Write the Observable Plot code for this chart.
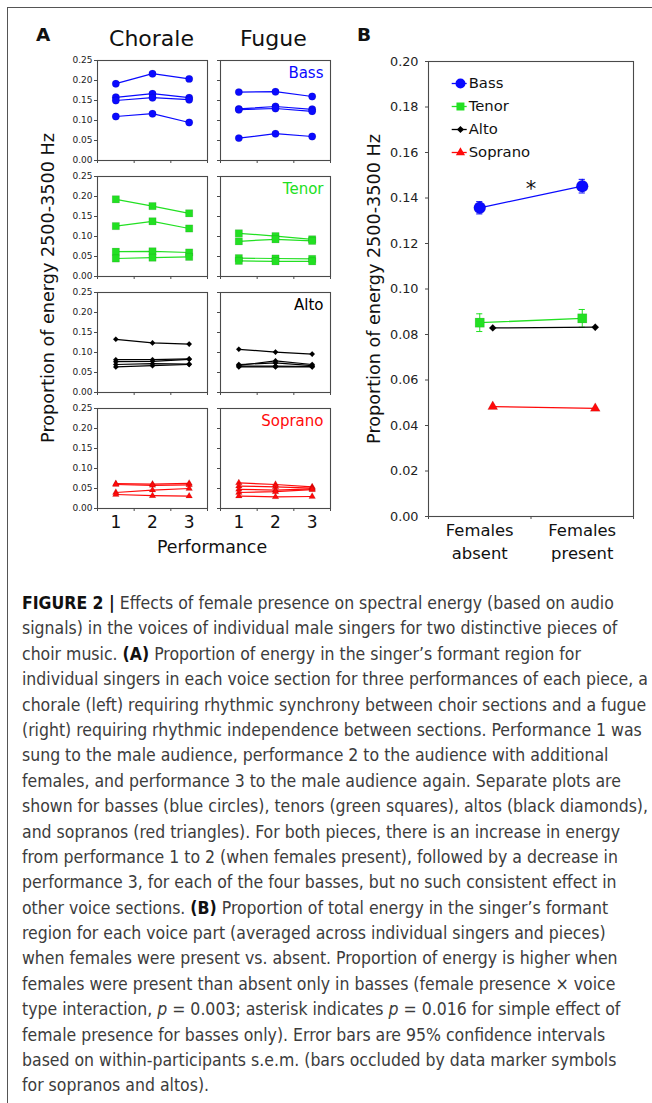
<!DOCTYPE html>
<html><head><meta charset="utf-8">
<script src="https://cdn.jsdelivr.net/npm/d3@7"></script>
<script src="https://cdn.jsdelivr.net/npm/@observablehq/plot@0.6"></script>
<style>
body{margin:0;background:#fff;}
#root{position:relative;width:652px;height:1103px;overflow:hidden;font-family:"DejaVu Sans",sans-serif;color:#111;}
.abs{position:absolute;white-space:nowrap;}
#border{position:absolute;left:7px;top:7px;width:700px;height:1200px;border-left:1.5px solid #555;border-top:1.5px solid #555;}
.ylab{position:absolute;font-size:17.6px;transform:translate(-50%,-50%) rotate(-90deg);white-space:nowrap;}
#caption{position:absolute;left:22px;top:591px;font-family:"Liberation Sans Narrow","DejaVu Sans Condensed","Liberation Sans",sans-serif;color:#3c3c3c;line-height:25.4px;font-size:19px;}
#caption div{white-space:nowrap;height:25.4px;}
#caption b{color:#111;}
svg{overflow:visible;}
</style></head><body><div id="root"><div id="border"></div></div>
<script>
// ---------- data ----------
const pieces = ["Chorale", "Fugue"];
const voices = ["Bass", "Tenor", "Alto", "Soprano"];
const performances = [1, 2, 3];
const yTicksA = [0, 0.05, 0.10, 0.15, 0.20, 0.25];
const yTicksB = [0, 0.02, 0.04, 0.06, 0.08, 0.10, 0.12, 0.14, 0.16, 0.18, 0.20];
const conditions = ["Females\nabsent", "Females\npresent"];

const bassChorale = [[0.192,0.217,0.204],[0.158,0.167,0.157],[0.150,0.157,0.152],[0.110,0.117,0.095]];
const bassFugue = [[0.171,0.172,0.160],[0.129,0.135,0.128],[0.127,0.130,0.123],[0.056,0.067,0.060]];
const tenorChorale = [[0.193,0.176,0.158],[0.126,0.138,0.120],[0.062,0.063,0.060],[0.045,0.047,0.049]];
const tenorFugue = [[0.108,0.101,0.093],[0.088,0.093,0.089],[0.046,0.045,0.044],[0.039,0.038,0.038]];
const altoChorale = [[0.133,0.124,0.121],[0.082,0.082,0.084],[0.077,0.078,0.083],[0.070,0.072,0.071],[0.064,0.067,0.070]];
const altoFugue = [[0.108,0.101,0.096],[0.068,0.079,0.070],[0.070,0.074,0.067],[0.066,0.066,0.065],[0.064,0.064,0.064]];
const sopranoChorale = [[0.062,0.061,0.063],[0.060,0.058,0.059],[0.040,0.046,0.050],[0.035,0.032,0.031]];
const sopranoFugue = [[0.064,0.060,0.054],[0.056,0.054,0.051],[0.048,0.046,0.049],[0.040,0.042,0.047],[0.031,0.029,0.030]];

const bassMeans = [0.1357, 0.1452];
const tenorMeans = [0.0852, 0.0871];
const altoMeans = [0.0829, 0.0832];
const sopranoMeans = [0.0483, 0.0475];
const bassErr = [0.0027, 0.0030];
const tenorErr = [0.0039, 0.0039];
const altoErr = [0, 0];
const sopranoErr = [0, 0];
const asteriskMark = [{x: 1, y: 0.1437, text: "*"}];

// ---------- styles ----------
const colors = {Bass: "#0a0aff", Tenor: "#22e022", Alto: "#000000", Soprano: "#ff0a0a"};
const symbols = {Bass: "circle", Tenor: "square", Alto: "diamond2", Soprano: "triangle"};
const rA = {Bass: 3.7, Tenor: 4.1, Alto: 2.5, Soprano: 2.5};
const rB = {Bass: 6, Tenor: 5.2, Alto: 3.3, Soprano: 3.7};
const rL = {Bass: 5, Tenor: 4.5, Alto: 3.2, Soprano: 3.4};
const offsetB = {Bass: 0, Tenor: 0, Alto: 13, Soprano: 13};
const seriesA = {
  Bass: {Chorale: bassChorale, Fugue: bassFugue},
  Tenor: {Chorale: tenorChorale, Fugue: tenorFugue},
  Alto: {Chorale: altoChorale, Fugue: altoFugue},
  Soprano: {Chorale: sopranoChorale, Fugue: sopranoFugue}
};
const seriesB = {
  Bass: [bassMeans, bassErr], Tenor: [tenorMeans, tenorErr],
  Alto: [altoMeans, altoErr], Soprano: [sopranoMeans, sopranoErr]
};

const root = document.getElementById("root");
function place(node, left, top) {
  node.style.position = "absolute";
  node.style.left = left + "px";
  node.style.top = top + "px";
  node.style.maxWidth = "none";
  root.appendChild(node);
}
function addText(txt, left, top, css) {
  const d = document.createElement("div");
  d.className = "abs";
  d.textContent = txt;
  d.style.left = left + "px"; d.style.top = top + "px";
  Object.assign(d.style, css || {});
  root.appendChild(d);
  return d;
}
const FONT = "DejaVu Sans";

// ---------- panel A ----------
const panelW = 110, panelH = 100;
const panelLeft = {Chorale: 97, Fugue: 220};
const panelTop = [60, 176, 292, 408];

voices.forEach((voice, vi) => {
  pieces.forEach(piece => {
    const rows = [];
    seriesA[voice][piece].forEach((vals, si) => {
      vals.forEach((v, pi) => rows.push({singer: si, perf: performances[pi], value: v}));
    });
    const isLeft = piece === "Chorale";
    const isBottom = vi === voices.length - 1;
    const ml = isLeft ? 44 : 8, mr = 4, mt = 4, mb = isBottom ? 34 : 8;
    const marks = [
      Plot.frame({stroke: "#4a4a4a", strokeWidth: 1.1}),
      Plot.axisY({ticks: yTicksA, tickSize: 3, tickPadding: 2, stroke: "#4a4a4a",
        tickFormat: isLeft ? d3.format(".2f") : () => "", fontSize: 9, label: null, fill: "#222"}),
      Plot.axisX({ticks: [0.5, 1.5, 2.5, 3.5], tickSize: 3, stroke: "#4a4a4a", tickFormat: () => "", label: null}),
      Plot.line(rows, {x: "perf", y: "value", z: "singer", stroke: colors[voice], strokeWidth: 1.2}),
      Plot.dot(rows, {x: "perf", y: "value", symbol: symbols[voice], r: rA[voice], fill: colors[voice], stroke: "rgba(0,0,0,0.12)", strokeWidth: 0.8})
    ];
    if (isBottom) marks.push(Plot.axisX({ticks: performances, tickSize: 0, tickPadding: 7, fontSize: 17, tickFormat: d => String(d), label: null, fill: "#111"}));
    if (!isLeft) marks.push(Plot.text([voice], {frameAnchor: "top-right", dx: -7, dy: 13, lineAnchor: "middle", textAnchor: "end", fill: colors[voice], fontSize: 15}));
    const svg = Plot.plot({
      width: ml + panelW + mr, height: mt + panelH + mb,
      marginLeft: ml, marginRight: mr, marginTop: mt, marginBottom: mb,
      x: {domain: [0.5, 3.5]}, y: {domain: [0, 0.25]},
      style: {fontFamily: FONT, background: "transparent", overflow: "visible"},
      marks
    });
    place(svg, panelLeft[piece] - ml, panelTop[vi] - mt);
  });
});

// ---------- panel B ----------
(function(){
  const ml = 78, mr = 12, mt = 6, mb = 52, W = 205, H = 455;
  const marks = [
    Plot.frame({stroke: "#4a4a4a", strokeWidth: 1.1}),
    Plot.axisY({ticks: yTicksB, tickSize: 3, tickPadding: 7, stroke: "#4a4a4a", tickFormat: d3.format(".2f"), fontSize: 12.8, label: null, fill: "#222"}),
    Plot.axisX({ticks: [0, 1, 2], tickSize: 3, stroke: "#4a4a4a", tickFormat: () => "", label: null}),
    Plot.axisX({ticks: [0.5, 1.5], tickSize: 0, tickPadding: 3, fontSize: 16.4, lineHeight: 1.4, tickFormat: d => conditions[Math.floor(d)], label: null, fill: "#111"})
  ];
  voices.forEach(voice => {
    const [means, errs] = seriesB[voice];
    const rows = means.map((m, i) => ({x: i + 0.5, mean: m, err: errs[i]}));
    const ebar = rows.filter(d => d.err > 0);
    marks.push(
      Plot.ruleX(ebar, {x: "x", y1: d => d.mean - d.err, y2: d => d.mean + d.err, stroke: colors[voice], strokeWidth: 1, dx: offsetB[voice]}),
      Plot.ruleY(ebar, {y: d => d.mean + d.err, x1: d => d.x - 0.03, x2: d => d.x + 0.03, stroke: colors[voice], strokeWidth: 1, dx: offsetB[voice]}),
      Plot.ruleY(ebar, {y: d => d.mean - d.err, x1: d => d.x - 0.03, x2: d => d.x + 0.03, stroke: colors[voice], strokeWidth: 1, dx: offsetB[voice]}),
      Plot.line(rows, {x: "x", y: "mean", stroke: colors[voice], strokeWidth: 1.3, dx: offsetB[voice]}),
      Plot.dot(rows, {x: "x", y: "mean", symbol: symbols[voice], r: rB[voice], fill: colors[voice], stroke: "rgba(0,0,0,0.12)", strokeWidth: 0.8, dx: offsetB[voice]})
    );
  });
  marks.push(Plot.text(asteriskMark, {x: "x", y: "y", text: "text", fontSize: 21, lineAnchor: "middle", fill: "#111"}));
  const svg = Plot.plot({
    width: ml + W + mr, height: mt + H + mb,
    marginLeft: ml, marginRight: mr, marginTop: mt, marginBottom: mb,
    x: {domain: [0, 2]}, y: {domain: [0, 0.20]},
    style: {fontFamily: FONT, background: "transparent", overflow: "visible"},
    marks
  });
  place(svg, 428 - ml, 61 - mt);

  // legend
  const lg = Plot.plot({
    width: 90, height: 100, marginLeft: 0, marginRight: 0, marginTop: 0, marginBottom: 0,
    x: {domain: [0, 1], range: [1.7, 16.7], axis: null},
    y: {type: "point", domain: voices, range: [12.3, 83.3], padding: 0, axis: null},
    style: {fontFamily: FONT, background: "transparent", overflow: "visible"},
    marks: voices.flatMap(v => [
      Plot.ruleY([v], {y: d => d, x1: 0, x2: 1, stroke: colors[v], strokeWidth: 1.3}),
      Plot.dot([v], {x: 0.55, y: d => d, symbol: symbols[v], r: rL[v], fill: colors[v]}),
      Plot.text([v], {x: 1, y: d => d, text: d => d, dx: 1.5, textAnchor: "start", fontSize: 14.8, fill: "#111"})
    ])
  });
  place(lg, 450, 70);
})();

// ---------- annotations ----------
addText("A", 36, 24, {fontWeight: "bold", fontSize: "18.5px"});
addText("B", 357, 24, {fontWeight: "bold", fontSize: "18.5px"});
addText("Chorale", 151.5, 38.3, {fontSize: "22px", transform: "translate(-50%,-50%)"});
addText("Fugue", 273.3, 38.3, {fontSize: "22px", transform: "translate(-50%,-50%)"});
addText("Performance", 212, 547, {fontSize: "17.4px", transform: "translate(-50%,-50%)"});
const yl1 = document.createElement("div"); yl1.className = "ylab";
yl1.textContent = "Proportion of energy 2500-3500 Hz";
yl1.style.left = "48px"; yl1.style.top = "287.5px"; root.appendChild(yl1);
const yl2 = document.createElement("div"); yl2.className = "ylab";
yl2.textContent = "Proportion of energy 2500-3500 Hz";
yl2.style.left = "373.5px"; yl2.style.top = "288.5px"; root.appendChild(yl2);

// ---------- caption ----------
const captionLines = [
  "<b>FIGURE 2 |</b> Effects of female presence on spectral energy (based on audio",
  "signals) in the voices of individual male singers for two distinctive pieces of",
  "choir music. <b>(A)</b> Proportion of energy in the singer’s formant region for",
  "individual singers in each voice section for three performances of each piece, a",
  "chorale (left) requiring rhythmic synchrony between choir sections and a fugue",
  "(right) requiring rhythmic independence between sections. Performance 1 was",
  "sung to the male audience, performance 2 to the audience with additional",
  "females, and performance 3 to the male audience again. Separate plots are",
  "shown for basses (blue circles), tenors (green squares), altos (black diamonds),",
  "and sopranos (red triangles). For both pieces, there is an increase in energy",
  "from performance 1 to 2 (when females present), followed by a decrease in",
  "performance 3, for each of the four basses, but no such consistent effect in",
  "other voice sections. <b>(B)</b> Proportion of total energy in the singer’s formant",
  "region for each voice part (averaged across individual singers and pieces)",
  "when females were present vs. absent. Proportion of energy is higher when",
  "females were present than absent only in basses (female presence × voice",
  "type interaction, <i>p</i> = 0.003; asterisk indicates <i>p</i> = 0.016 for simple effect of",
  "female presence for basses only). Error bars are 95% confidence intervals",
  "based on within-participants s.e.m. (bars occluded by data marker symbols",
  "for sopranos and altos)."
];
const cap = document.createElement("div"); cap.id = "caption";
cap.innerHTML = captionLines.map(l => `<div><span>${l}</span></div>`).join("");
root.appendChild(cap);
const ref = cap.children[3].firstChild;
const w = ref.getBoundingClientRect().width;
if (w > 0) cap.style.fontSize = (19 * 626 / w).toFixed(2) + "px";
</script>
</body></html>
